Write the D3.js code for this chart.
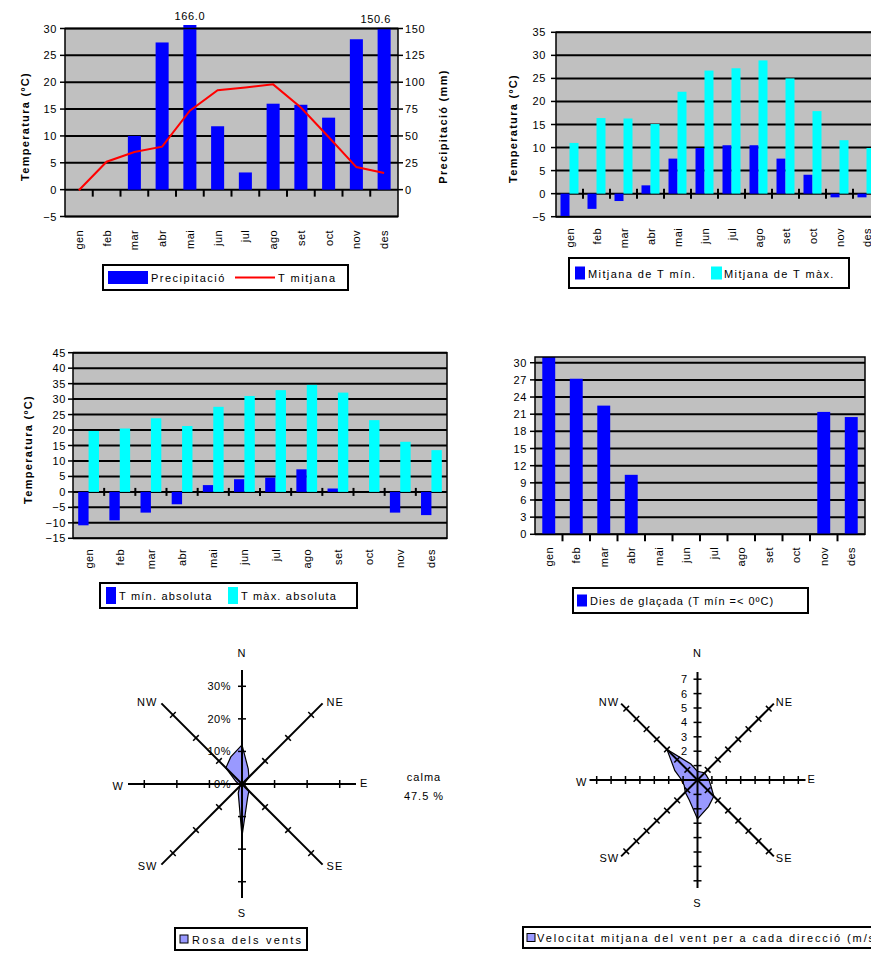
<!DOCTYPE html>
<html><head><meta charset="utf-8">
<script src="https://cdn.jsdelivr.net/npm/d3@7"></script>
<style>
body{margin:0;background:#fff}
text{font-family:"Liberation Sans",Arial,sans-serif;fill:#000}
</style>
</head><body>
<svg id="c" width="871" height="954"></svg>
<script>
// ---------------- DATA ----------------
const months = ["gen","feb","mar","abr","mai","jun","jul","ago","set","oct","nov","des"];
const precipitacio = [0,0,50,137,166.0,59,16,80,79,67,140,150.6];
const tMitjana = [-0.1,5.2,7.0,8.0,14.7,18.5,19.0,19.6,15.3,9.8,4.2,3.1];
const tMinMitjana = [-6.2,-3.3,-1.6,1.8,7.6,9.9,10.5,10.5,7.6,4.1,-0.8,-0.8];
const tMaxMitjana = [11.0,16.4,16.3,15.1,22.1,26.7,27.2,28.9,25.0,17.9,11.6,9.9];
const tMinAbsoluta = [-10.8,-9.2,-6.7,-4.0,2.2,4.1,4.6,7.3,1.1,0,-6.7,-7.5];
const tMaxAbsoluta = [19.7,20.5,23.8,21.3,27.5,31.0,32.9,34.6,32.1,23.2,16.2,13.5];
const diesGlacada = [31,27.2,22.5,10.4,0,0,0,0,0,0,21.4,20.5];
const windDirs = ["N","NNE","NE","ENE","E","ESE","SE","SSE","S","SSW","SW","WSW","W","WNW","NW","NNW"];
const mainDirs = ["N","NE","E","SE","S","SW","W","NW"];
const windFreq = [12,5,3,1,1,1,3,4.5,16,3,1,0.5,1,2,7,9];
const windSpeed = [0.6,0.6,0.7,0.7,0.8,1.0,1.6,2.0,2.7,1.5,1.2,1.0,1.1,1.7,3.0,1.2];
const calma = 47.5;
const freqTicks = [0,10,20,30];
const speedTicks = [0,1,2,3,4,5,6,7];

// ---------------- HELPERS ----------------
const svg = d3.select("#c");
const BLUE = "#0000ff", CYAN = "#00ffff", RED = "#ff0000", GRAY = "#c0c0c0", ROSE = "#9999ff";
const FS = 11;

function label(g, x, y, s, o = {}) {
  const t = g.append("text").attr("x", x).attr("y", y).text(s)
    .attr("font-size", o.size || FS)
    .attr("text-anchor", o.anchor || "start")
    .attr("dominant-baseline", "central")
    .attr("letter-spacing", o.ls == null ? 1.2 : o.ls);
  if (o.bold) t.attr("font-weight", "bold");
  if (o.rot) t.attr("transform", `rotate(${o.rot},${x},${y})`);
  return t;
}

function barPanel(c) {
  const g = svg.append("g");
  const x = d3.scaleBand().domain(months).range([c.left, c.right]);
  const y = d3.scaleLinear().domain(c.domain).range([c.bottom, c.top]);
  const yR = c.rightDomain ? d3.scaleLinear().domain(c.rightDomain).range([c.bottom, c.top]) : null;
  const ticks = d3.range(c.domain[0], c.domain[1] + 1e-9, c.step);
  const bw = x.bandwidth();

  g.append("rect").attr("x", c.left).attr("y", c.top)
    .attr("width", c.right - c.left).attr("height", c.bottom - c.top).attr("fill", GRAY);
  g.selectAll(null).data(ticks).join("line")
    .attr("x1", c.left).attr("x2", c.right)
    .attr("y1", d => y(d)).attr("y2", d => y(d))
    .attr("stroke", "#000").attr("stroke-width", 2);

  c.series.forEach(s => {
    const sc = s.right ? yR : y;
    g.selectAll(null).data(s.values).join("rect")
      .attr("x", (d, i) => x(months[i]) + bw * s.x0)
      .attr("width", bw * (s.x1 - s.x0))
      .attr("y", d => Math.max(sc(Math.max(d, 0)), c.top - (c.over || 0)))
      .attr("height", d => Math.max(0, Math.min(sc(Math.min(d, 0)), c.bottom) - Math.max(sc(Math.max(d, 0)), c.top - (c.over || 0))))
      .attr("fill", s.color);
  });

  if (c.line) {
    const ln = d3.line().x((d, i) => x(months[i]) + bw / 2).y(d => y(d));
    g.append("path").attr("d", ln(c.line.values)).attr("fill", "none")
      .attr("stroke", c.line.color).attr("stroke-width", 2);
  }

  // border
  g.append("rect").attr("x", c.left).attr("y", c.top)
    .attr("width", c.right - c.left).attr("height", c.bottom - c.top)
    .attr("fill", "none").attr("stroke", "#000").attr("stroke-width", 1.5);

  // left axis
  ticks.forEach(t => {
    g.append("line").attr("x1", c.left - 5).attr("x2", c.left).attr("y1", y(t)).attr("y2", y(t))
      .attr("stroke", "#000").attr("stroke-width", 1.5);
    label(g, c.left - c.lgap, y(t), d3.format("d")(t), { anchor: "end", ls: 0.6 });
  });
  if (yR) {
    d3.range(0, c.rightDomain[1] + 1e-9, c.rightStep).forEach(t => {
      g.append("line").attr("x1", c.right).attr("x2", c.right + 5).attr("y1", yR(t)).attr("y2", yR(t))
        .attr("stroke", "#000").attr("stroke-width", 1.5);
      label(g, c.right + 7, yR(t), d3.format("d")(t), { anchor: "start", ls: 0.6 });
    });
  }
  // category ticks on zero line
  const y0 = y(Math.max(0, c.domain[0]));
  months.slice(1).forEach(m => {
    g.append("line").attr("x1", x(m)).attr("x2", x(m))
      .attr("y1", y0 + c.tUp).attr("y2", y0 + c.tDown)
      .attr("stroke", "#000").attr("stroke-width", 2);
  });
  // month labels
  months.forEach(m => {
    label(g, x(m) + bw / 2, c.mTop, m, { anchor: "end", rot: -90, ls: 0.4 });
  });
  if (c.title) label(g, c.titleX, (c.top + c.bottom) / 2 + 4, c.title, { anchor: "middle", rot: -90, bold: true, ls: 1.3 });
  if (c.rightTitle) label(g, c.rightTitleX, (c.top + c.bottom) / 2 + 4, c.rightTitle, { anchor: "middle", rot: -90, bold: true, ls: 1.3 });

  if (c.dataLabels) {
    c.dataLabels.forEach(i => {
      const v = precipitacio[i];
      const top = Math.max(yR(v), c.top - (c.over || 0));
      const t = label(g, 0, top - 9, d3.format(".1f")(v), { anchor: "middle", ls: 0.6 });
      const w = t.node().getComputedTextLength();
      const cx = Math.min(x(months[i]) + bw / 2, c.labelMaxX - w / 2);
      t.attr("x", cx);
    });
  }
  return g;
}

function legend(b, items) {
  const g = svg.append("g");
  g.append("rect").attr("x", b.x).attr("y", b.y).attr("width", b.w).attr("height", b.h)
    .attr("fill", "#fff").attr("stroke", "#000").attr("stroke-width", 2);
  const cy = b.y + b.h / 2;
  items.forEach(it => {
    if (it.kind === "line") {
      g.append("line").attr("x1", it.sx).attr("x2", it.sx + it.sw).attr("y1", cy).attr("y2", cy)
        .attr("stroke", it.color).attr("stroke-width", 2);
    } else {
      g.append("rect").attr("x", it.sx).attr("y", cy - it.sh / 2).attr("width", it.sw).attr("height", it.sh)
        .attr("fill", it.color).attr("stroke", it.stroke || "none").attr("stroke-width", 1);
    }
    label(g, it.tx, cy + 0.5, it.text, { ls: it.ls == null ? 1.5 : it.ls });
  });
}

function rose(c) {
  const r = d3.scaleLinear().domain([0, c.max]).range([0, c.R]);
  const g = svg.append("g").attr("transform", `translate(${c.cx},${c.cy})`);
  c.ticks.forEach(t => label(g, -c.tickLabelDx, -r(t), c.fmt(t), { anchor: "end", ls: 0.5 }));
  const radial = d3.lineRadial()
    .angle((d, i) => i * 2 * Math.PI / c.values.length)
    .radius(d => r(d)).curve(d3.curveLinearClosed);
  g.append("path").attr("d", radial(c.values)).attr("fill", ROSE)
    .attr("stroke", "#000").attr("stroke-width", 1.2);
  mainDirs.forEach((name, k) => {
    const a = k * 45;
    const ag = g.append("g").attr("transform", `rotate(${a})`);
    ag.append("line").attr("x1", 0).attr("y1", 0).attr("x2", 0).attr("y2", -c.R)
      .attr("stroke", "#000").attr("stroke-width", 2);
    c.ticks.filter(t => t > 0).forEach(t => {
      ag.append("line").attr("x1", -4).attr("x2", 4).attr("y1", -r(t)).attr("y2", -r(t))
        .attr("stroke", "#000").attr("stroke-width", 1.5);
    });
    const rad = a * Math.PI / 180, s = Math.sin(rad), co = Math.cos(rad);
    let lx = c.R * s, ly = -c.R * co, anchor = "middle";
    if (s > 0.1) { anchor = "start"; lx += c.gapX; }
    else if (s < -0.1) { anchor = "end"; lx -= c.gapX; }
    if (co > 0.9) ly -= c.gapN;
    else if (co < -0.9) ly += c.gapS;
    else ly -= 1.5 * Math.sign(co);
    label(g, lx, ly, name, { anchor, ls: 1 });
  });
}

// ---------------- PANELS ----------------
barPanel({
  left: 65, right: 398, top: 28.5, bottom: 216.5, domain: [-5, 30], step: 5,
  rightDomain: [-25, 150], rightStep: 25, over: 3.5, lgap: 8,
  series: [{ values: precipitacio, color: BLUE, x0: 0.265, x1: 0.735, right: true }],
  line: { values: tMitjana, color: RED },
  tUp: 0, tDown: 7, mTop: 230,
  title: "Temperatura (ºC)", titleX: 25,
  rightTitle: "Precipitació (mm)", rightTitleX: 443,
  dataLabels: [4, 11], labelMaxX: 391
});
legend({ x: 103, y: 265, w: 245, h: 25 }, [
  { kind: "rect", color: BLUE, sx: 108, sw: 40, sh: 13, tx: 151, text: "Precipitació" },
  { kind: "line", color: RED, sx: 235, sw: 40, tx: 278, text: "T mitjana" }
]);

barPanel({
  left: 556, right: 880, top: 32.3, bottom: 216.7, domain: [-5, 35], step: 5, lgap: 10,
  series: [
    { values: tMinMitjana, color: BLUE, x0: 1 / 6, x1: 0.5 },
    { values: tMaxMitjana, color: CYAN, x0: 0.5, x1: 5 / 6 }
  ],
  tUp: -5, tDown: 5, mTop: 228,
  title: "Temperatura (ºC)", titleX: 513
});
legend({ x: 569, y: 258, w: 280, h: 30 }, [
  { kind: "rect", color: BLUE, sx: 575, sw: 10, sh: 13, tx: 588, text: "Mitjana de T mín.", ls: 1.4 },
  { kind: "rect", color: CYAN, sx: 711, sw: 11, sh: 13, tx: 724, text: "Mitjana de T màx.", ls: 1.4 }
]);

barPanel({
  left: 73, right: 447, top: 352.7, bottom: 538.3, domain: [-15, 45], step: 5, lgap: 7,
  series: [
    { values: tMinAbsoluta, color: BLUE, x0: 1 / 6, x1: 0.5 },
    { values: tMaxAbsoluta, color: CYAN, x0: 0.5, x1: 5 / 6 }
  ],
  tUp: -4, tDown: 4, mTop: 549,
  title: "Temperatura (ºC)", titleX: 28
});
legend({ x: 100, y: 583, w: 257, h: 25 }, [
  { kind: "rect", color: BLUE, sx: 106, sw: 10, sh: 17, tx: 119, text: "T mín. absoluta", ls: 1.2 },
  { kind: "rect", color: CYAN, sx: 228, sw: 10, sh: 17, tx: 241, text: "T màx. absoluta", ls: 1.2 }
]);

barPanel({
  left: 535, right: 865, top: 357, bottom: 534.3, domain: [0, 31], step: 3, lgap: 8,
  series: [{ values: diesGlacada, color: BLUE, x0: 0.265, x1: 0.735 }],
  tUp: 0, tDown: 7, mTop: 547
});
legend({ x: 573, y: 588, w: 235, h: 25 }, [
  { kind: "rect", color: BLUE, sx: 577, sw: 10, sh: 12, tx: 590, text: "Dies de glaçada (T mín =< 0ºC)", ls: 1.0 }
]);

rose({
  cx: 242, cy: 784, R: 114, max: 35, values: windFreq, ticks: freqTicks,
  fmt: t => t + "%", tickLabelDx: 11, gapX: 4, gapN: 17, gapS: 15
});
label(svg, 424, 777, "calma", { anchor: "middle", ls: 1 });
label(svg, 424, 796, d3.format(".1f")(calma) + " %", { anchor: "middle", ls: 1 });
legend({ x: 175, y: 928, w: 132, h: 22 }, [
  { kind: "rect", color: ROSE, stroke: "#000", sx: 180, sw: 8, sh: 8, tx: 192, text: "Rosa dels vents", ls: 2.2 }
]);

rose({
  cx: 697.5, cy: 780, R: 108, max: 7.5, values: windSpeed, ticks: speedTicks,
  fmt: t => String(t), tickLabelDx: 10, gapX: 2, gapN: 19, gapS: 15
});
legend({ x: 523, y: 927, w: 360, h: 21 }, [
  { kind: "rect", color: ROSE, stroke: "#000", sx: 527, sw: 8, sh: 8, tx: 537, text: "Velocitat mitjana del vent per a cada direcció (m/s)", ls: 1.9 }
]);
</script>
</body></html>
